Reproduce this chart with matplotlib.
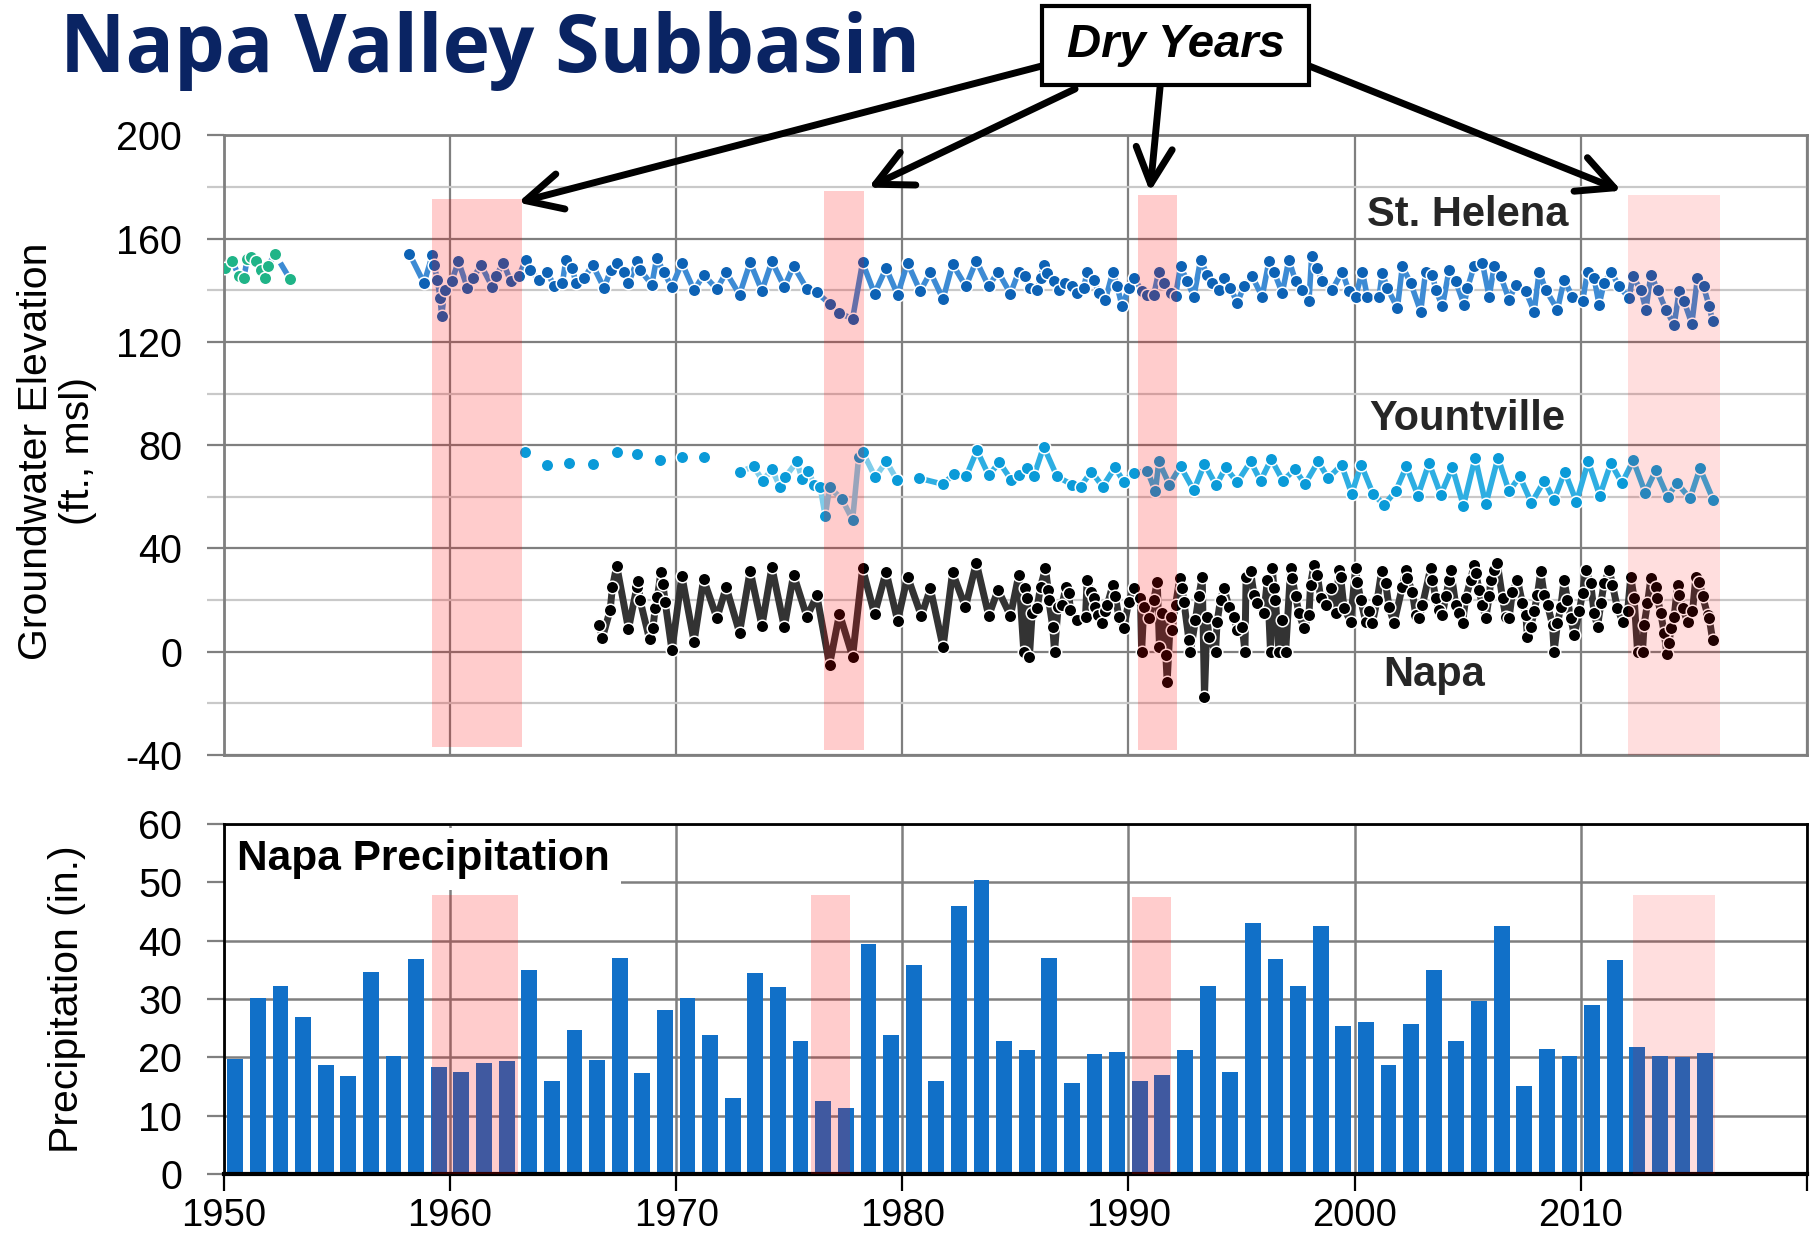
import numpy as np
import matplotlib
matplotlib.use('Agg')
import matplotlib.pyplot as plt
from matplotlib.patches import Rectangle
from matplotlib.ticker import MultipleLocator

plt.rcParams['font.family'] = ['Liberation Sans', 'DejaVu Sans']
plt.rcParams['axes.unicode_minus'] = False

# ---- data ----
# annual precipitation at Napa (in.), one bar per water year
precip_years = np.arange(1950, 2016)
precip_in = [19.8, 30.1, 32.3, 26.9, 18.8, 16.8, 34.6, 20.2, 36.8, 18.4,
             17.6, 19.0, 19.4, 35.0, 16.0, 24.7, 19.6, 37.0, 17.4, 28.1,
             30.1, 23.8, 13.0, 34.4, 32.1, 22.8, 12.5, 11.3, 39.4, 23.8,
             35.8, 16.0, 45.9, 50.3, 22.8, 21.2, 37.0, 15.6, 20.6, 21.0,
             16.0, 17.0, 21.2, 32.3, 17.6, 43.0, 36.8, 32.3, 42.4, 25.3,
             26.1, 18.8, 25.7, 34.9, 22.8, 29.7, 42.4, 15.2, 21.4, 20.2,
             28.9, 36.6, 21.8, 20.2, 20.0, 20.8]

# dry periods (decimal year) and the extent of the shading in each panel
dry_start_gw = [1959.2, 1976.55, 1990.4, 2012.1]
dry_end_gw = [1963.2, 1978.3, 1992.15, 2016.15]
dry_top_gw = [175.5, 178.5, 177.0, 177.0]
dry_bot_gw = [-37.0, -38.0, -38.0, -40.0]
dry_start_pr = [1959.2, 1975.95, 1990.15, 2012.3]
dry_end_pr = [1963.0, 1977.7, 1991.9, 2015.95]
dry_top_pr = [47.8, 47.8, 47.5, 47.7]
dry_alpha = [0.2, 0.2, 0.2, 0.13]

# where the "Dry Years" arrows point (year, elevation)
arrow_tip_year = [1963.0, 1978.5, 1990.95, 2011.8]
arrow_tip_elev = [174.0, 179.8, 178.2, 178.6]

# groundwater elevation (ft msl), (decimal year, value)
early_well = [(1950.07, 148.6), (1950.37, 151.5), (1950.66, 145.4), (1950.88, 144.8),
              (1951.03, 152.1), (1951.18, 152.9), (1951.40, 151.2), (1951.62, 148.0),
              (1951.80, 144.8), (1951.95, 149.5), (1952.26, 154.1), (1952.92, 144.4)]

st_helena = [(1958.20, 154.2), (1958.85, 142.8), (1959.22, 153.8), (1959.29, 149.9),
             (1959.44, 144.1), (1959.56, 137.0), (1959.63, 129.9), (1959.76, 140.2),
             (1960.07, 143.5), (1960.37, 151.2), (1960.77, 140.9), (1961.03, 144.8),
             (1961.36, 149.9), (1961.87, 141.3), (1962.02, 145.4), (1962.36, 150.6),
             (1962.68, 143.5), (1963.05, 145.7), (1963.35, 151.9), (1963.54, 147.7),
             (1963.94, 144.1), (1964.30, 147.3), (1964.60, 141.5), (1964.97, 142.8),
             (1965.12, 151.9), (1965.41, 148.6), (1965.56, 142.8), (1965.93, 144.8),
             (1966.30, 149.9), (1966.81, 140.9), (1967.11, 148.0), (1967.40, 150.6),
             (1967.67, 147.3), (1967.89, 142.8), (1968.26, 151.2), (1968.40, 148.0),
             (1968.92, 142.2), (1969.14, 152.5), (1969.44, 147.3), (1969.80, 141.3),
             (1970.25, 150.6), (1970.79, 140.0), (1971.21, 146.0), (1971.80, 140.5),
             (1972.21, 147.0), (1972.80, 138.3), (1973.27, 150.8), (1973.79, 139.8),
             (1974.23, 151.2), (1974.78, 141.3), (1975.19, 149.5), (1975.78, 140.5),
             (1976.22, 139.2), (1976.78, 134.8), (1977.22, 131.2), (1977.80, 129.0),
             (1978.24, 150.8), (1978.77, 138.7), (1979.28, 148.6), (1979.79, 138.3),
             (1980.23, 150.6), (1980.79, 139.6), (1981.24, 147.0), (1981.80, 136.6),
             (1982.22, 150.2), (1982.81, 141.5), (1983.27, 151.5), (1983.82, 141.5),
             (1984.23, 147.3), (1984.78, 138.7), (1985.15, 147.3), (1985.44, 145.4),
             (1985.66, 140.9), (1985.96, 140.2), (1986.11, 144.8), (1986.25, 149.9),
             (1986.40, 146.7), (1986.70, 143.5), (1986.92, 140.2), (1987.21, 142.8),
             (1987.51, 141.5), (1987.73, 138.9), (1988.02, 140.9), (1988.17, 147.3),
             (1988.47, 144.1), (1988.69, 138.9), (1988.98, 136.4), (1989.31, 147.3),
             (1989.50, 141.5), (1989.72, 133.8), (1990.01, 140.9), (1990.24, 144.8),
             (1990.60, 139.6), (1990.83, 138.3), (1991.12, 138.3), (1991.34, 147.3),
             (1991.56, 142.8), (1991.86, 138.9), (1992.08, 137.9), (1992.30, 149.3),
             (1992.60, 143.5), (1992.89, 137.6), (1993.19, 151.9), (1993.48, 146.0),
             (1993.70, 142.8), (1993.99, 140.2), (1994.22, 144.8), (1994.51, 140.9),
             (1994.81, 135.1), (1995.10, 141.5), (1995.47, 145.4), (1995.91, 137.6),
             (1996.21, 151.2), (1996.43, 147.3), (1996.80, 138.9), (1997.09, 151.9),
             (1997.39, 143.5), (1997.68, 140.2), (1997.98, 135.7), (1998.10, 153.2),
             (1998.35, 148.6), (1998.57, 143.5), (1999.01, 140.2), (1999.45, 147.3),
             (1999.75, 139.6), (2000.04, 137.6), (2000.34, 147.3), (2000.56, 137.6),
             (2001.08, 137.6), (2001.22, 146.7), (2001.45, 140.9), (2001.89, 133.1),
             (2002.11, 149.3), (2002.48, 142.8), (2002.92, 131.8), (2003.14, 147.3),
             (2003.44, 146.0), (2003.59, 140.2), (2003.88, 133.8), (2004.18, 148.0),
             (2004.47, 143.5), (2004.84, 134.4), (2004.99, 140.9), (2005.28, 149.3),
             (2005.65, 150.6), (2005.95, 137.6), (2006.17, 149.3), (2006.46, 145.4),
             (2006.83, 136.4), (2007.13, 142.2), (2007.57, 139.6), (2007.94, 131.8),
             (2008.16, 147.3), (2008.45, 140.2), (2008.97, 132.5), (2009.26, 144.1),
             (2009.63, 137.6), (2010.08, 135.7), (2010.30, 147.3), (2010.59, 144.8),
             (2010.81, 134.4), (2011.03, 142.8), (2011.33, 147.3), (2011.70, 141.5),
             (2012.14, 137.0), (2012.29, 145.4), (2012.66, 140.2), (2012.88, 132.5),
             (2013.10, 146.0), (2013.40, 140.2), (2013.76, 132.5), (2014.13, 126.7),
             (2014.35, 139.6), (2014.57, 135.7), (2014.91, 127.1), (2015.16, 144.8),
             (2015.43, 141.5), (2015.68, 133.8), (2015.83, 128.0)]

# early Yountville readings are plotted as points only
yountville_early = [(1963.32, 77.3), (1964.28, 72.4), (1965.27, 73.3), (1966.30, 72.8),
                    (1967.37, 77.2), (1968.26, 76.5), (1969.29, 74.3), (1970.25, 75.6),
                    (1971.25, 75.6)]
yountville_a = [(1972.80, 69.6), (1973.42, 71.8), (1973.83, 66.2), (1974.23, 70.7),
                (1974.60, 63.7), (1974.82, 67.6), (1975.34, 73.7), (1975.56, 67.0),
                (1975.85, 70.2), (1976.08, 64.7), (1976.37, 63.7), (1976.59, 52.4),
                (1976.78, 63.7), (1977.33, 59.1), (1977.80, 51.1), (1978.07, 75.6),
                (1978.26, 77.2), (1978.80, 67.6), (1979.29, 73.7), (1979.76, 66.6)]
yountville_b = [(1980.75, 67.2), (1981.80, 64.9), (1982.27, 68.8), (1982.83, 68.1),
                (1983.30, 78.0), (1983.82, 68.3), (1984.29, 73.4), (1984.81, 66.6),
                (1985.15, 68.5), (1985.52, 71.1), (1985.81, 67.9), (1986.25, 79.5),
                (1986.84, 67.9), (1987.51, 64.7), (1987.88, 64.0), (1988.36, 69.8),
                (1988.86, 64.0), (1989.40, 71.4), (1989.79, 65.9), (1990.24, 69.2),
                (1990.83, 70.2), (1991.19, 62.1), (1991.34, 73.7), (1991.81, 64.7),
                (1992.30, 71.8), (1992.89, 62.5), (1993.36, 72.8), (1993.88, 64.4),
                (1994.29, 71.4), (1994.81, 65.6), (1995.40, 73.7), (1995.84, 66.2),
                (1996.31, 74.6), (1996.83, 66.2), (1997.36, 70.7), (1997.80, 64.9),
                (1998.39, 73.7), (1998.83, 67.2), (1999.42, 72.4), (1999.87, 61.2),
                (2000.29, 72.4), (2000.81, 61.2), (2001.30, 56.9), (2001.81, 62.1),
                (2002.29, 71.8), (2002.80, 60.5), (2003.29, 73.1), (2003.81, 60.8),
                (2004.32, 71.4), (2004.81, 56.5), (2005.33, 75.2), (2005.80, 57.1),
                (2006.34, 75.2), (2006.83, 62.1), (2007.30, 67.9), (2007.82, 57.6),
                (2008.38, 66.2), (2008.82, 58.8), (2009.29, 69.8), (2009.81, 58.1),
                (2010.33, 73.7), (2010.84, 60.4), (2011.33, 73.1), (2011.82, 65.3),
                (2012.32, 74.1), (2012.85, 61.6), (2013.32, 70.4), (2013.84, 60.0),
                (2014.25, 65.4), (2014.83, 59.4), (2015.27, 71.0), (2015.86, 58.7)]

napa = [(1966.59, 10.4), (1966.74, 5.5), (1967.08, 16.2), (1967.18, 25.0), (1967.37, 33.3),
        (1967.89, 8.8), (1968.26, 25.1), (1968.33, 27.4), (1968.40, 20.0), (1968.82, 4.8),
        (1968.97, 9.1), (1969.07, 16.9), (1969.17, 21.1), (1969.32, 30.7), (1969.41, 26.3),
        (1969.51, 19.4), (1969.81, 0.7), (1970.25, 29.4), (1970.79, 3.9), (1971.21, 28.1),
        (1971.80, 13.0), (1972.21, 25.0), (1972.80, 7.4), (1973.27, 31.4), (1973.79, 10.0),
        (1974.23, 32.7), (1974.78, 9.5), (1975.19, 29.8), (1975.78, 13.5), (1976.22, 21.8),
        (1976.78, -5.1), (1977.22, 14.7), (1977.80, -1.9), (1978.24, 32.3), (1978.77, 14.5),
        (1979.28, 31.0), (1979.79, 12.0), (1980.23, 29.1), (1980.84, 13.8), (1981.24, 24.5),
        (1981.80, 1.8), (1982.22, 30.7), (1982.79, 17.2), (1983.27, 34.5), (1983.82, 13.9),
        (1984.23, 24.0), (1984.78, 13.9), (1985.15, 29.8),
        (1985.37, 0.0), (1985.44, 24.6), (1985.52, 20.7), (1985.62, -1.9), (1985.74, 14.9),
        (1985.96, 16.9), (1986.11, 25.2), (1986.33, 32.3), (1986.45, 23.9), (1986.47, 20.1),
        (1986.65, 9.7), (1986.73, 0.0), (1986.89, 17.5), (1987.06, 18.1), (1987.24, 25.2),
        (1987.36, 22.7), (1987.43, 16.2), (1987.73, 12.1), (1988.10, 13.6), (1988.17, 27.8),
        (1988.36, 23.3), (1988.47, 20.7), (1988.54, 17.5), (1988.66, 14.3), (1988.83, 11.0),
        (1988.95, 15.6), (1989.06, 18.1), (1989.31, 25.9), (1989.42, 21.4), (1989.57, 13.6),
        (1989.79, 9.1), (1990.01, 19.4), (1990.24, 24.6), (1990.53, 20.7), (1990.58, 0.0),
        (1990.68, 17.5), (1990.90, 13.0), (1991.12, 20.1), (1991.27, 27.2), (1991.37, 2.0),
        (1991.49, 14.9), (1991.65, -1.3), (1991.71, -11.6), (1991.86, 13.6), (1991.93, 8.4),
        (1992.08, 18.1), (1992.27, 28.5), (1992.37, 24.6), (1992.45, 19.4), (1992.67, 4.6),
        (1992.74, 0.0), (1992.96, 12.3), (1993.11, 21.4), (1993.26, 29.1), (1993.36, -17.4),
        (1993.48, 13.6), (1993.55, 5.9), (1993.85, 0.0), (1993.92, 11.7), (1994.07, 20.1),
        (1994.22, 24.6), (1994.44, 17.5), (1994.66, 13.6), (1994.81, 8.4), (1995.03, 9.7),
        (1995.15, 0.0), (1995.20, 29.1), (1995.40, 31.1), (1995.55, 22.0), (1995.69, 18.8),
        (1995.99, 14.9), (1996.14, 27.8), (1996.28, 0.0), (1996.36, 32.3), (1996.43, 24.6),
        (1996.50, 20.1), (1996.65, 0.0), (1996.80, 12.3), (1996.95, 0.0), (1997.17, 32.3),
        (1997.24, 28.5), (1997.39, 21.4), (1997.54, 14.9), (1997.76, 9.1), (1997.98, 14.3),
        (1998.05, 25.9), (1998.20, 33.6), (1998.35, 29.8), (1998.50, 20.7), (1998.72, 18.1),
        (1998.94, 24.6), (1999.16, 14.9), (1999.31, 31.7), (1999.38, 29.1), (1999.53, 16.9),
        (1999.82, 11.7), (2000.04, 32.3), (2000.12, 27.2), (2000.27, 20.1), (2000.49, 11.7),
        (2000.63, 15.6), (2000.78, 11.0), (2001.00, 20.1), (2001.19, 31.1), (2001.37, 26.5),
        (2001.52, 17.5), (2001.74, 11.0), (2002.11, 25.2), (2002.26, 31.7), (2002.33, 28.5),
        (2002.55, 23.3), (2002.70, 14.3), (2002.85, 13.0), (2003.00, 18.1), (2003.36, 32.3),
        (2003.44, 27.8), (2003.59, 20.7), (2003.73, 16.2), (2003.88, 14.3), (2004.03, 21.4),
        (2004.18, 27.8), (2004.25, 31.7), (2004.47, 18.1), (2004.62, 14.9), (2004.77, 11.0),
        (2004.91, 20.7), (2005.13, 27.8), (2005.28, 33.6), (2005.36, 30.5), (2005.50, 23.9),
        (2005.65, 18.1), (2005.80, 13.0), (2005.95, 21.4), (2006.02, 27.8), (2006.17, 31.7),
        (2006.31, 34.2), (2006.54, 20.7), (2006.68, 13.6), (2006.83, 13.0), (2006.98, 23.3),
        (2007.20, 27.8), (2007.42, 18.8), (2007.57, 14.3), (2007.64, 5.9), (2007.79, 9.7),
        (2007.94, 15.6), (2008.08, 22.0), (2008.23, 31.1), (2008.38, 22.0), (2008.53, 18.1),
        (2008.75, 10.4), (2008.82, 0.0), (2008.97, 11.0), (2009.12, 17.5), (2009.26, 27.8),
        (2009.41, 20.1), (2009.56, 13.0), (2009.71, 6.5), (2009.93, 15.6), (2010.08, 22.7),
        (2010.22, 31.7), (2010.44, 26.5), (2010.59, 14.9), (2010.74, 9.7), (2010.89, 18.8),
        (2011.03, 26.5), (2011.26, 31.7), (2011.40, 25.9), (2011.62, 16.9), (2011.85, 11.7),
        (2012.07, 15.6), (2012.21, 29.1), (2012.36, 20.7), (2012.51, 0.0), (2012.73, 0.0),
        (2012.80, 10.4), (2012.95, 18.8), (2013.10, 28.5), (2013.32, 25.2), (2013.39, 20.7),
        (2013.54, 14.9), (2013.69, 7.2), (2013.81, -0.9), (2013.91, 3.3), (2013.98, 9.1),
        (2014.13, 13.6), (2014.28, 25.9), (2014.35, 22.0), (2014.50, 16.9), (2014.72, 11.7),
        (2014.94, 15.6), (2015.09, 29.1), (2015.24, 27.2), (2015.39, 21.4), (2015.61, 14.3),
        (2015.68, 13.0), (2015.83, 4.6)]

decades = np.arange(1950, 2030, 10)

# ---- figure ----
fig = plt.figure(figsize=(18.16, 12.44), dpi=100)
ax1 = fig.add_axes([0.1233, 0.3931, 0.8717, 0.4980])
ax2 = fig.add_axes([0.1233, 0.0559, 0.8717, 0.2821])

GRID_DARK = '#7f7f7f'
GRID_LIGHT = '#c9c9c9'
TICK_FS = 28.5


def well(ax, pts, line_c, mark_c, lw, ls='-'):
    x, y = zip(*pts)
    ax.plot(x, y, linestyle=ls, color=line_c, lw=lw, marker='o', ms=9,
            mfc=mark_c, mec='white', mew=1.1, zorder=3)


# top panel: groundwater elevations
ax1.set_xlim(1950, 2020)
ax1.set_ylim(-40, 200)
ax1.yaxis.set_major_locator(MultipleLocator(40))
ax1.yaxis.set_minor_locator(MultipleLocator(20))
ax1.set_xticks(decades)
ax1.tick_params(axis='x', length=0, labelbottom=False)
ax1.tick_params(axis='y', which='major', length=12, width=1.6, color=GRID_DARK,
                labelsize=TICK_FS, pad=18)
ax1.tick_params(axis='y', which='minor', length=12, width=1.6, color=GRID_LIGHT)
ax1.grid(which='major', axis='both', color=GRID_DARK, lw=1.6)
ax1.grid(which='minor', axis='y', color=GRID_LIGHT, lw=1.6)
ax1.set_axisbelow(True)
for sp in ax1.spines.values():
    sp.set_color(GRID_DARK)
    sp.set_linewidth(2)

well(ax1, early_well, '#3d8bd4', '#1fb487', 4, '--')
well(ax1, st_helena, '#3d8bd4', '#0d62b5', 4)
ax1.plot(*zip(*yountville_early), 'o', ms=9, mfc='#0a9ad8', mec='white', mew=1.1, zorder=3)
well(ax1, yountville_a, '#7fcdea', '#0a9ad8', 4)
well(ax1, yountville_b, '#2eaee2', '#0a9ad8', 4)
well(ax1, napa, '#333333', 'black', 5)

for x0, x1, lo, hi, a in zip(dry_start_gw, dry_end_gw, dry_bot_gw, dry_top_gw, dry_alpha):
    ax1.add_patch(Rectangle((x0, lo), x1 - x0, hi - lo, facecolor='red', alpha=a,
                            edgecolor='none', zorder=4))

label_kw = dict(fontsize=30, fontweight='bold', color='#262626', ha='center', va='center', zorder=5)
ax1.text(2005.0, 169, 'St. Helena', **label_kw)
ax1.text(2005.0, 90, 'Yountville', **label_kw)
ax1.text(2003.5, -9, 'Napa', **label_kw)

ax1.set_ylabel('Groundwater Elevation\n(ft., msl)', fontsize=29.5, linespacing=1.15)
ax1.yaxis.set_label_coords(-0.080, 0.49)

# bottom panel: precipitation
ax2.set_xlim(1950, 2020)
ax2.set_ylim(0, 60)
ax2.set_yticks(np.arange(0, 61, 10))
ax2.set_xticks(decades)
ax2.set_xticklabels([str(d) if d < 2020 else '' for d in decades])
ax2.tick_params(axis='both', length=12, width=1.6, labelsize=TICK_FS)
ax2.tick_params(axis='y', pad=18, color=GRID_DARK)
ax2.tick_params(axis='x', pad=5, labelsize=27.5)
ax2.grid(axis='both', color=GRID_DARK, lw=1.8)
ax2.set_axisbelow(True)
for sp in ax2.spines.values():
    sp.set_color('black')
    sp.set_linewidth(2)
ax2.spines['bottom'].set_linewidth(3)

ax2.bar(precip_years + 0.5, precip_in, width=0.7, color='#1170c8', zorder=2)
for x0, x1, hi, a in zip(dry_start_pr, dry_end_pr, dry_top_pr, dry_alpha):
    ax2.add_patch(Rectangle((x0, 0), x1 - x0, hi, facecolor='red', alpha=a,
                            edgecolor='none', zorder=4))

ax2.text(1950.6, 54.0, 'Napa Precipitation', fontsize=30.5, fontweight='bold', color='black',
         ha='left', va='center', zorder=5,
         bbox=dict(facecolor='white', edgecolor='none', pad=8))
ax2.set_ylabel('Precipitation (in.)', fontsize=29.5)
ax2.yaxis.set_label_coords(-0.087, 0.5)

# title and the "Dry Years" call-out
fig.text(0.0330, 0.942, 'Napa Valley Subbasin', fontsize=58, fontweight='bold',
         family=['Open Sans', 'DejaVu Sans'], color='#0a2463', ha='left', va='baseline')

box_x0, box_y0, box_w, box_h = 0.5738, 0.9317, 0.1470, 0.0635
fig.patches.append(Rectangle((box_x0, box_y0), box_w, box_h, transform=fig.transFigure,
                             facecolor='white', edgecolor='black', lw=3, zorder=6))
fig.text(box_x0 + box_w / 2, box_y0 + box_h / 2, 'Dry Years', fontsize=34,
         fontweight='bold', fontstyle='italic', ha='center', va='center', zorder=7)

arrow_tails = [(box_x0, 0.947), (0.592, 0.9285), (0.6388, 0.930), (box_x0 + box_w, 0.947)]
for (tx, ty), ax_, ay_ in zip(arrow_tails, arrow_tip_year, arrow_tip_elev):
    ax1.annotate('', xy=(ax_, ay_), xycoords='data', xytext=(tx, ty),
                 textcoords='figure fraction', annotation_clip=False, zorder=6,
                 arrowprops=dict(arrowstyle='->,head_length=1.3,head_width=0.65',
                                 mutation_scale=20, lw=5, color='black',
                                 shrinkA=0, shrinkB=0))

fig.savefig('out.png', dpi=100)
